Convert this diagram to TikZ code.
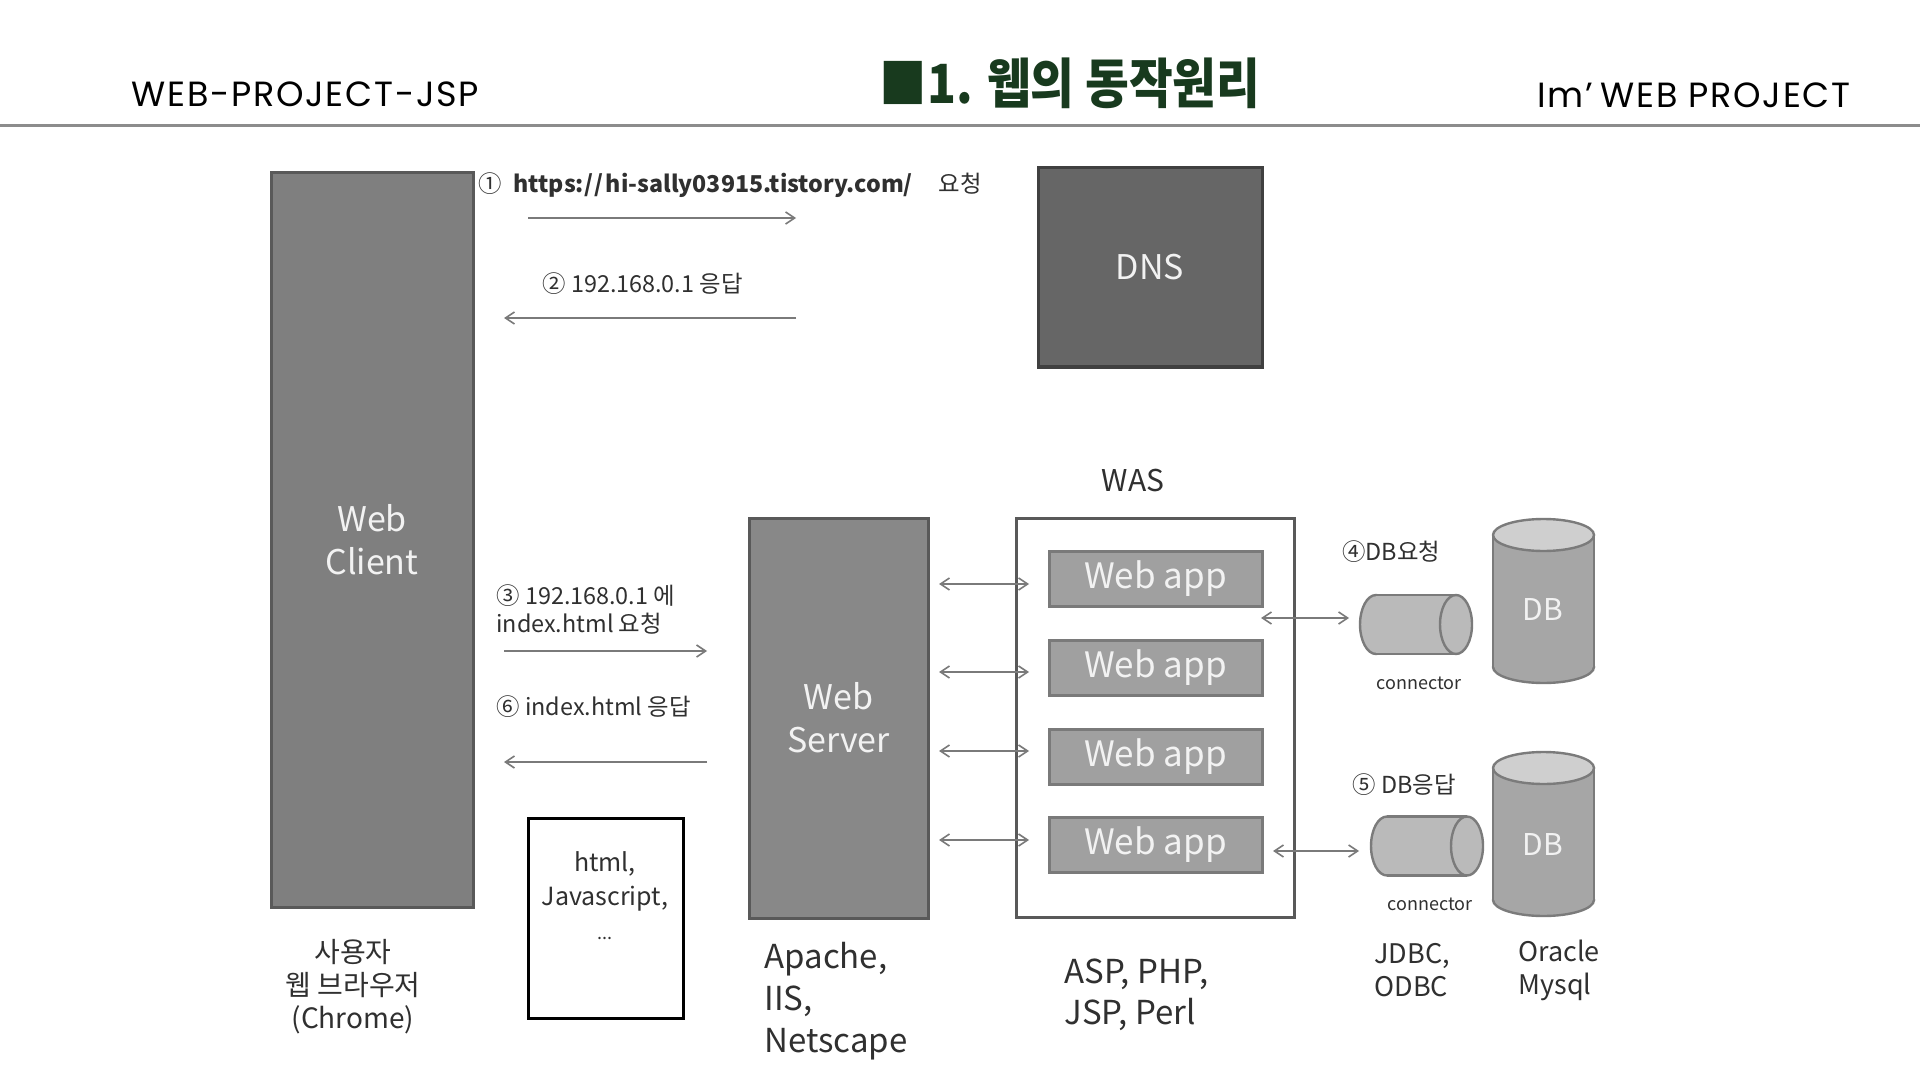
\documentclass[tikz,border=0pt]{standalone}
\usepackage{fontspec}
\usepackage{graphicx}
\setmainfont{Noto Sans CJK KR}
\newfontfamily\hdrfont[LetterSpace=5]{Poppins}
\usetikzlibrary{arrows.meta,calc}
\definecolor{titlegreen}{HTML}{183A1E}
\definecolor{rulegray}{HTML}{8C8C8C}
\definecolor{clientfill}{HTML}{7F7F7F}
\definecolor{serverfill}{HTML}{888888}
\definecolor{dnsfill}{HTML}{666666}
\definecolor{boxline}{HTML}{595959}
\definecolor{appfill}{HTML}{A0A0A0}
\definecolor{appline}{HTML}{7A7A7A}
\definecolor{dbbody}{HTML}{A6A6A6}
\definecolor{dbtop}{HTML}{CFCFCF}
\definecolor{cylline}{HTML}{7B7B7B}
\definecolor{conbody}{HTML}{BABABA}
\definecolor{arrgray}{HTML}{7A7A7A}
\definecolor{txtgray}{HTML}{303030}
\begin{document}
\begin{tikzpicture}[x=0.5pt,y=-0.5pt,
  bigbox/.style={draw=boxline, line width=1.5pt, text=white!95!black, align=center, inner sep=0pt},
  appbox/.style={draw=appline, fill=appfill, line width=1.5pt, minimum width=106.5pt, minimum height=27.5pt, text=white!95!black, inner sep=0pt, font=\fontsize{17.5}{19}\selectfont},
  arr/.style={draw=arrgray, line width=0.8pt, -{Straight Barb[length=4.5pt,width=6pt]}},
  darr/.style={draw=arrgray, line width=0.8pt, {Straight Barb[length=4.5pt,width=6pt]}-{Straight Barb[length=4.5pt,width=6pt]}},
  lbl/.style={text=txtgray, inner sep=0pt, font=\fontsize{11.7}{14}\selectfont},
  dblbl/.style={text=white!95!black, inner sep=0pt, font=\fontsize{15}{18}\selectfont},
  conlbl/.style={text=txtgray, inner sep=0pt, font=\fontsize{9}{11}\selectfont},
]
\useasboundingbox (0,0) rectangle (1920,1080);
\fill[white] (0,0) rectangle (1920,1080);

% header
\node[anchor=west, inner sep=0pt, font=\hdrfont\fontsize{17.5}{19}\selectfont] (hl) at (131,94) {WEB-PROJECT-JSP};
\node[inner sep=0pt, text=titlegreen, font=\bfseries\fontsize{27}{30}\selectfont] (title) at (1070,83) {\scalebox{0.88}[1]{■1. 웹의 동작원리}};
\node[anchor=east, inner sep=0pt, font=\hdrfont\fontsize{17.5}{19}\selectfont] (hr) at (1851,95) {Im’\hspace{0.2em}WEB PROJECT};
\draw[rulegray, line width=1.5pt] (0,126) -- (1920,126);

% main boxes
\node[bigbox, fill=clientfill, minimum width=101pt, minimum height=367pt, font=\fontsize{17}{21.5}\selectfont] (wc) at (372,540) {Web\\Client};
\node[bigbox, fill=dnsfill, draw=black!75, minimum width=112pt, minimum height=99.5pt, font=\fontsize{17}{20}\selectfont] (dns) at (1150,267.5) {DNS};
\node[bigbox, fill=serverfill, minimum width=89.5pt, minimum height=200pt, font=\fontsize{17}{21.5}\selectfont] (ws) at (838.5,718) {Web\\Server};
\node[draw=boxline, line width=1.5pt, fill=white, minimum width=139pt, minimum height=199.5pt, inner sep=0pt] (was) at (1155,717.5) {};
\node[text=txtgray, inner sep=0pt, font=\fontsize{15}{18}\selectfont] (waslbl) at (1133,481) {WAS};
\node[appbox] (app1) at (1155.5,579) {\raisebox{-3.5pt}{Web app}};
\node[appbox] (app2) at (1155.5,668) {\raisebox{-3.5pt}{Web app}};
\node[appbox] (app3) at (1155.5,757) {\raisebox{-3.5pt}{Web app}};
\node[appbox] (app4) at (1155.5,845) {\raisebox{-3.5pt}{Web app}};
\node[draw=black, line width=1.5pt, minimum width=77.5pt, minimum height=100pt, inner sep=0pt] (html) at (605.5,918) {};
\node[text=txtgray, align=center, inner sep=0pt, font=\fontsize{12.5}{17}\selectfont] (htmltxt) at (605,896) {html,\\Javascript,\\{\fontsize{9}{10}\selectfont...}};

% DB cylinders
\foreach \n/\cy in {1/535,2/768}{
  \coordinate (db\n) at (1543.5,\cy);
  \fill[draw=cylline, line width=1.2pt, fill=dbbody] (1543.5,\cy+132) ellipse[x radius=50.5, y radius=16];
  \fill[dbbody] (1493,\cy) rectangle (1594,\cy+132);
  \draw[cylline, line width=1.2pt] (1493,\cy) -- (1493,\cy+132) (1594,\cy) -- (1594,\cy+132);
  \draw[cylline, line width=1.2pt, fill=dbtop] (1543.5,\cy) ellipse[x radius=50.5, y radius=16];
}
\node[dblbl] (dbt1) at (1543,610) {DB};
\node[dblbl] (dbt2) at (1543,844) {DB};

% connector cylinders
\foreach \n/\lx/\cy in {1/1376/624.5,2/1387/846}{
  \coordinate (con\n) at (\lx+40,\cy);
  \fill[draw=cylline, line width=1.2pt, fill=conbody] (\lx,\cy) ellipse[x radius=16, y radius=29.5];
  \fill[conbody] (\lx,\cy-29.5) rectangle (\lx+80,\cy+29.5);
  \draw[cylline, line width=1.2pt] (\lx,\cy-29.5) -- (\lx+80,\cy-29.5) (\lx,\cy+29.5) -- (\lx+80,\cy+29.5);
  \draw[cylline, line width=1.2pt, fill=conbody] (\lx+80,\cy) ellipse[x radius=16, y radius=29.5];
}
\node[conlbl] (cl1) at (1419,683) {connector};
\node[conlbl] (cl2) at (1430,904) {connector};

% labels
\node[lbl, anchor=west] (l1) at (478,185) {①\hspace{0.5em}{\fontsize{11.6}{14}\selectfont\textbf{https:/\kern1pt/\kern1pt hi-sally03915.tistory.com/}}\hspace{1.1em}요청};
\node[lbl, anchor=west] (l2) at (542,284) {② 192.168.0.1 응답};
\node[lbl, anchor=west, align=left] (l3) at (496,609) {③ 192.168.0.1 에\\index.html 요청};
\node[lbl, anchor=west] (l6) at (496,707) {⑥ index.html 응답};
\node[lbl, anchor=west] (l4) at (1342,552) {④DB요청};
\node[lbl, anchor=west] (l5) at (1352,785) {⑤ DB응답};

% bottom labels
\node[text=txtgray, align=center, inner sep=0pt, font=\fontsize{14}{16.5}\selectfont] (userlbl) at (353,987) {사용자\\웹 브라우저\\(Chrome)};
\node[text=txtgray, align=left, anchor=west, inner sep=0pt, font=\fontsize{16.5}{21}\selectfont] (wslbl) at (764,1001) {Apache,\\IIS,\\Netscape};
\node[text=txtgray, align=left, anchor=west, inner sep=0pt, font=\fontsize{16.5}{20.5}\selectfont] (waslbl2) at (1064,995) {ASP, PHP,\\JSP, Perl};
\node[text=txtgray, align=left, anchor=west, inner sep=0pt, font=\fontsize{13.5}{16.5}\selectfont] (jdbc) at (1374,970) {JDBC,\\ODBC};
\node[text=txtgray, align=left, anchor=west, inner sep=0pt, font=\fontsize{13.5}{16.5}\selectfont] (ora) at (1518,970) {Oracle\\Mysql};

% arrows
\coordinate (a1s) at (528,218); \coordinate (a1e) at (796,218);
\coordinate (a2s) at (796,318); \coordinate (a2e) at (504,318);
\coordinate (a3s) at (504,651); \coordinate (a3e) at (707,651);
\coordinate (a6s) at (707,762); \coordinate (a6e) at (504,762);
\draw[arr] (a1s) -- (a1e);
\draw[arr] (a2s) -- (a2e);
\draw[arr] (a3s) -- (a3e);
\draw[arr] (a6s) -- (a6e);
\foreach \y [count=\i] in {584,672,751,840}{
  \coordinate (wl\i) at (939,\y); \coordinate (wr\i) at (1029,\y);
  \draw[darr] (wl\i) -- (wr\i);
}
\coordinate (c1l) at (1261,618); \coordinate (c1r) at (1349,618);
\coordinate (c2l) at (1273,851); \coordinate (c2r) at (1359,851);
\draw[darr] (c1l) -- (c1r);
\draw[darr] (c2l) -- (c2r);
\end{tikzpicture}
\end{document}
